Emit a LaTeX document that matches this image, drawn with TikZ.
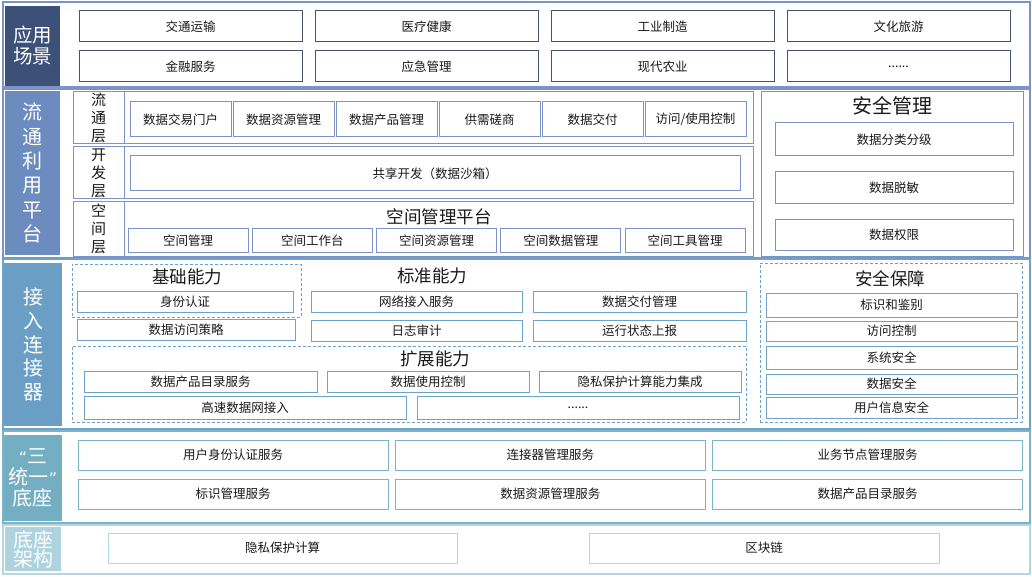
\documentclass[tikz,border=0pt]{standalone}
\usepackage{fontspec}
\setmainfont{Noto Sans CJK SC}
\newfontfamily\quotefont{DejaVu Sans}
\definecolor{yyA}{HTML}{3C5078}
\definecolor{yyB}{HTML}{6C8CC0}
\definecolor{yyC}{HTML}{6A9EC5}
\definecolor{yyD}{HTML}{74AEC2}
\definecolor{yyE}{HTML}{AED3DE}
\definecolor{lineA}{HTML}{44546A}
\definecolor{lineB}{HTML}{7B93C9}
\definecolor{lineC}{HTML}{6FA2C8}
\definecolor{lineD}{HTML}{7AB4C8}
\definecolor{lineE}{HTML}{B3D7E0}
\begin{document}
\begin{tikzpicture}[x=1pt,y=-1pt,
  cell/.style={draw, line width=1pt, inner sep=0pt, text=black!90, font=\fontsize{12.5}{15}\selectfont},
  side/.style={inner sep=0pt, text=white, align=center},
  title/.style={inner sep=0pt, text=black!90, font=\fontsize{17.5}{20}\selectfont},
  layerlab/.style={draw=lineB, line width=1pt, inner sep=0pt, align=center, text=black!90, font=\fontsize{15}{18}\selectfont},
  dashbox/.style={draw=lineC, line width=1pt, dash pattern=on 3pt off 2pt, inner sep=0pt}]
\useasboundingbox (0,0) rectangle (1032,577);

\draw[lineB, line width=1.2pt] (3,2) rectangle (1030,87);
\node[side, fill=yyA, minimum width=55, minimum height=80, font=\fontsize{19.5}{21}\selectfont] (appLab) at (32.5,46) {应用\\场景};
\node[cell, draw=lineA, minimum width=223, minimum height=31] (app1) at (190.5,26.5) {交通运输};
\node[cell, draw=lineA, minimum width=223, minimum height=31] (app2) at (426.5,26.5) {医疗健康};
\node[cell, draw=lineA, minimum width=223, minimum height=31] (app3) at (662.5,26.5) {工业制造};
\node[cell, draw=lineA, minimum width=223, minimum height=31] (app4) at (898.5,26.5) {文化旅游};
\node[cell, draw=lineA, minimum width=223, minimum height=31] (app5) at (190.5,66.5) {金融服务};
\node[cell, draw=lineA, minimum width=223, minimum height=31] (app6) at (426.5,66.5) {应急管理};
\node[cell, draw=lineA, minimum width=223, minimum height=31] (app7) at (662.5,66.5) {现代农业};
\node[cell, draw=lineA, minimum width=223, minimum height=31] (app8) at (898.5,66.5) {......};

\draw[lineB, line width=1.2pt] (3,89) rectangle (1030,258);
\node[side, fill=yyB, minimum width=55, minimum height=164, font=\fontsize{20}{24.4}\selectfont] (platLab) at (32.5,173) {流\\通\\利\\用\\平\\台};
\node[layerlab, minimum width=51, minimum height=52] (flowLab) at (98.5,118) {流\\通\\层};
\node[draw=lineB, line width=1pt, minimum width=629, minimum height=52] (flowBody) at (438.5,118) {};
\node[layerlab, minimum width=51, minimum height=52] (devLab) at (98.5,173) {开\\发\\层};
\node[draw=lineB, line width=1pt, minimum width=629, minimum height=52] (devBody) at (438.5,173) {};
\node[layerlab, minimum width=51, minimum height=54] (spaceLab) at (98.5,229) {空\\间\\层};
\node[draw=lineB, line width=1pt, minimum width=629, minimum height=54] (spaceBody) at (438.5,229) {};
\node[cell, draw=lineB, minimum width=101, minimum height=35] (flow1) at (180.5,119.5) {数据交易门户};
\node[cell, draw=lineB, minimum width=101, minimum height=35] (flow2) at (283.5,119.5) {数据资源管理};
\node[cell, draw=lineB, minimum width=101, minimum height=35] (flow3) at (386.5,119.5) {数据产品管理};
\node[cell, draw=lineB, minimum width=101, minimum height=35] (flow4) at (489.5,119.5) {供需磋商};
\node[cell, draw=lineB, minimum width=101, minimum height=35] (flow5) at (592.5,119.5) {数据交付};
\node[cell, draw=lineB, minimum width=101, minimum height=35] (flow6) at (695.5,119.5) {访问/使用控制};
\node[cell, draw=lineB, minimum width=610, minimum height=35] (dev1) at (435,173.5) {共享开发（数据沙箱）};
\node[title] (spaceTitle) at (439,217) {空间管理平台};
\node[cell, draw=lineB, minimum width=120, minimum height=23] (space1) at (188,240.5) {空间管理};
\node[cell, draw=lineB, minimum width=120, minimum height=23] (space2) at (312.3,240.5) {空间工作台};
\node[cell, draw=lineB, minimum width=120, minimum height=23] (space3) at (436.6,240.5) {空间资源管理};
\node[cell, draw=lineB, minimum width=120, minimum height=23] (space4) at (560.9,240.5) {空间数据管理};
\node[cell, draw=lineB, minimum width=120, minimum height=23] (space5) at (685.2,240.5) {空间工具管理};
\node[draw=lineB, line width=1pt, minimum width=262, minimum height=164] (secMan) at (892,174) {};
\node[title, font=\fontsize{20}{24}\selectfont] (secManTitle) at (892,106) {安全管理};
\node[cell, draw=lineB, minimum width=238, minimum height=33] (secMan1) at (894,139.5) {数据分类分级};
\node[cell, draw=lineB, minimum width=238, minimum height=32] (secMan2) at (894,188) {数据脱敏};
\node[cell, draw=lineB, minimum width=238, minimum height=30] (secMan3) at (894,235) {数据权限};

\draw[lineC, line width=1.2pt] (3,259) rectangle (1030,429);
\node[side, fill=yyC, minimum width=58, minimum height=163, font=\fontsize{20}{23.75}\selectfont] (connLab) at (33,344.5) {接\\入\\连\\接\\器};
\node[dashbox, minimum width=229, minimum height=53] (basic) at (186.5,290.5) {};
\node[title] (basicTitle) at (187,277) {基础能力};
\node[cell, draw=lineC, minimum width=216, minimum height=21] (basic1) at (185,301.5) {身份认证};
\node[cell, draw=lineC, minimum width=218, minimum height=21] (basic2) at (186,329.5) {数据访问策略};
\node[title] (stdTitle) at (432,276) {标准能力};
\node[cell, draw=lineC, minimum width=211, minimum height=21] (std1) at (416.5,301.5) {网络接入服务};
\node[cell, draw=lineC, minimum width=213, minimum height=21] (std2) at (639.5,301.5) {数据交付管理};
\node[cell, draw=lineC, minimum width=211, minimum height=21] (std3) at (416.5,330.5) {日志审计};
\node[cell, draw=lineC, minimum width=213, minimum height=21] (std4) at (639.5,330.5) {运行状态上报};
\node[dashbox, minimum width=674, minimum height=76] (ext) at (409,384) {};
\node[title] (extTitle) at (435,359) {扩展能力};
\node[cell, draw=lineC, minimum width=233, minimum height=21] (ext1) at (200.5,381.5) {数据产品目录服务};
\node[cell, draw=lineC, minimum width=202, minimum height=21] (ext2) at (428,381.5) {数据使用控制};
\node[cell, draw=lineC, minimum width=202, minimum height=21] (ext3) at (640,381.5) {隐私保护计算能力集成};
\node[cell, draw=lineC, minimum width=322, minimum height=23] (ext4) at (245,407.5) {高速数据网接入};
\node[cell, draw=lineC, minimum width=322, minimum height=23] (ext5) at (578,407.5) {......};
\node[dashbox, minimum width=262, minimum height=159] (guard) at (891,342.5) {};
\node[title] (guardTitle) at (890,279) {安全保障};
\node[cell, draw=lineC, minimum width=251, minimum height=24] (guard1) at (891.5,305) {标识和鉴别};
\node[cell, draw=lineC, minimum width=251, minimum height=20] (guard2) at (891.5,331) {访问控制};
\node[cell, draw=lineC, minimum width=251, minimum height=23] (guard3) at (891.5,357.5) {系统安全};
\node[cell, draw=lineC, minimum width=251, minimum height=20] (guard4) at (891.5,384) {数据安全};
\node[cell, draw=lineC, minimum width=251, minimum height=21] (guard5) at (891.5,407.5) {用户信息安全};

\draw[lineD, line width=1.2pt] (3,431) rectangle (1030,523);
\node[side, fill=yyD, minimum width=58, minimum height=86, font=\fontsize{20}{21}\selectfont] (baseLab) at (33,478) {{\quotefont\fontsize{16}{21}\selectfont“}三\\统一{\quotefont\fontsize{16}{21}\selectfont”}\\底座};
\node[cell, draw=lineD, minimum width=310, minimum height=30] (base1) at (233,455) {用户身份认证服务};
\node[cell, draw=lineD, minimum width=310, minimum height=30] (base2) at (550.3,455) {连接器管理服务};
\node[cell, draw=lineD, minimum width=310, minimum height=30] (base3) at (867.6,455) {业务节点管理服务};
\node[cell, draw=lineD, minimum width=310, minimum height=30] (base4) at (233,494) {标识管理服务};
\node[cell, draw=lineD, minimum width=310, minimum height=30] (base5) at (550.3,494) {数据资源管理服务};
\node[cell, draw=lineD, minimum width=310, minimum height=30] (base6) at (867.6,494) {数据产品目录服务};

\draw[lineE, line width=1.2pt] (3,525) rectangle (1030,574);
\node[side, fill=yyE, minimum width=56, minimum height=44, font=\fontsize{20}{19}\selectfont] (archLab) at (33,549) {底座\\架构};
\node[cell, draw=lineE, minimum width=349, minimum height=30] (arch1) at (282.5,548) {隐私保护计算};
\node[cell, draw=lineE, minimum width=350, minimum height=30] (arch2) at (764,548) {区块链};
\end{tikzpicture}
\end{document}
